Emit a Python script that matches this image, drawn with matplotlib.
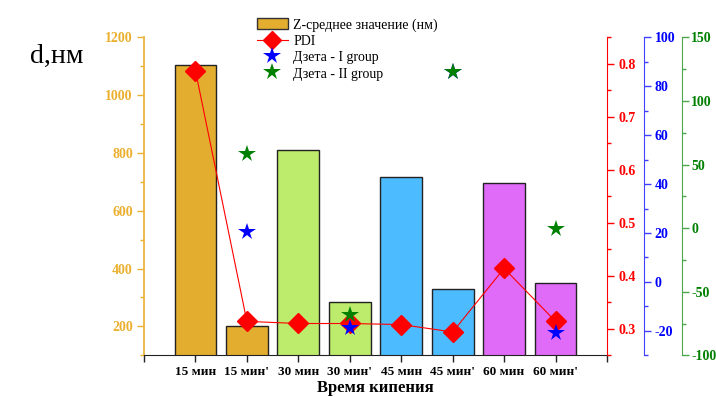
import matplotlib
matplotlib.use("Agg")
import matplotlib.pyplot as plt
import numpy as np
from matplotlib.ticker import MultipleLocator, FixedLocator
from matplotlib.patches import Patch
from matplotlib.lines import Line2D

plt.rcParams["axes.unicode_minus"] = False

categories = ["15 мин", "15 мин'", "30 мин", "30 мин'", "45 мин", "45 мин'", "60 мин", "60 мин'"]
z_average = [1103, 202, 811, 285, 716, 328, 695, 351]
pdi = [0.787, 0.314, 0.310, 0.310, 0.308, 0.294, 0.414, 0.314]
zeta_idx = [1, 3, 5, 7]
zeta_group1 = [20.5, -18.8, 86.0, -21.0]
zeta_group2 = [58.0, -68.5, 122.5, -0.5]

bar_colors = ["#E3AD30", "#E3AD30", "#BDEB6B", "#BDEB6B",
              "#4DBBFF", "#4DBBFF", "#E06BF8", "#E06BF8"]

SERIF = "Liberation Serif"
GOLD = "#EBB030"
RED = "#FF0000"

fig = plt.figure(figsize=(7.16, 3.97), dpi=100)
x0, x1 = 144 / 716, 607 / 716
y0, y1 = 1 - 355.3 / 397, 1 - 37.3 / 397
ax = fig.add_axes([x0, y0, x1 - x0, y1 - y0])
ax_r = ax.twinx()
ax_b = ax.twinx()
ax_g = ax.twinx()
width_px = 607 - 144

x = np.arange(len(categories))

# bars (left axis)
ax.bar(x, z_average, width=0.81, color=bar_colors, edgecolor="#222222", linewidth=1.0, zorder=2)
ax.set_xlim(-1, 8)
ax.set_ylim(100, 1200)

# PDI (red axis)
ax_r.plot(x, pdi, color=RED, linewidth=0.8, marker="D", markersize=10,
          markerfacecolor=RED, markeredgecolor=RED, zorder=3)
ax_r.set_ylim(0.25, 0.85)

# Zeta potentials
ax_b.plot(x[zeta_idx], zeta_group1, linestyle="none", marker="*", markersize=13,
          color="#0000FF", markeredgewidth=0)
ax_b.set_ylim(-30, 100)
ax_g.plot(x[zeta_idx], zeta_group2, linestyle="none", marker="*", markersize=13,
          color="#008000", markeredgewidth=0)
ax_g.set_ylim(-100, 150)

# spines
for a in (ax, ax_r, ax_b, ax_g):
    a.spines["top"].set_visible(False)
for a in (ax_r, ax_b, ax_g):
    a.spines["left"].set_visible(False)
    a.spines["bottom"].set_visible(False)
ax.spines["right"].set_visible(False)
ax.spines["left"].set_color(GOLD)
ax.spines["left"].set_linewidth(1.2)
ax.spines["bottom"].set_color("#222222")
ax_r.spines["right"].set_color(RED)
ax_b.spines["right"].set_position(("axes", (643.5 - 144) / width_px))
ax_b.spines["right"].set_color("#4040FF")
ax_g.spines["right"].set_position(("axes", (681.5 - 144) / width_px))
ax_g.spines["right"].set_color("#4CA64C")

tick_font = dict(family=SERIF, weight="bold", size=10)

# left axis ticks
ax.set_yticks([200, 400, 600, 800, 1000, 1200])
ax.yaxis.set_minor_locator(MultipleLocator(100))
ax.tick_params(axis="y", which="major", colors=GOLD, length=5, width=1, direction="out", pad=3)
ax.tick_params(axis="y", which="minor", colors=GOLD, length=3, width=1, direction="out")

# x axis
ax.xaxis.set_major_locator(FixedLocator(np.arange(-1, 9)))
ax.set_xticklabels([""] + categories + [""])
ax.tick_params(axis="x", which="major", colors="#222222", length=5, width=1, direction="out", pad=3)
for lbl in ax.get_xticklabels():
    lbl.set_color("black")
    lbl.set_fontproperties(dict(family=SERIF, weight="bold", size=9.5))
for lbl in ax.get_yticklabels():
    lbl.set_fontproperties(tick_font)
    lbl.set_color(GOLD)
ax.set_xlabel("Время кипения", fontfamily=SERIF, fontweight="bold", fontsize=12, labelpad=1)

# red axis ticks
ax_r.set_yticks([0.3, 0.4, 0.5, 0.6, 0.7, 0.8])
ax_r.set_yticklabels(["0.3", "0.4", "0.5", "0.6", "0.7", "0.8"])
ax_r.yaxis.set_minor_locator(MultipleLocator(0.05))
ax_r.tick_params(axis="y", which="major", colors=RED, length=5, width=1, pad=3)
ax_r.tick_params(axis="y", which="minor", colors=RED, length=3, width=1)

# blue axis ticks
ax_b.set_yticks([-20, 0, 20, 40, 60, 80, 100])
ax_b.yaxis.set_minor_locator(MultipleLocator(10))
ax_b.tick_params(axis="y", which="major", colors="#4040FF", length=5, width=1, pad=3)
ax_b.tick_params(axis="y", which="minor", colors="#4040FF", length=3, width=1)

# green axis ticks
ax_g.set_yticks([-100, -50, 0, 50, 100, 150])
ax_g.yaxis.set_minor_locator(MultipleLocator(25))
ax_g.tick_params(axis="y", which="major", colors="#4CA64C", length=5, width=1, pad=2)
ax_g.tick_params(axis="y", which="minor", colors="#4CA64C", length=3, width=1)

for a, c in ((ax_r, RED), (ax_b, "#0000FF"), (ax_g, "#008000")):
    for lbl in a.get_yticklabels():
        lbl.set_fontproperties(tick_font)
        lbl.set_color(c)

fig.text(30 / 716, 1 - 56 / 397, "d,нм", fontfamily=SERIF, fontsize=20, va="center", ha="left")

handles = [
    Patch(facecolor="#E3AD30", edgecolor="#333333", linewidth=1.0),
    Line2D([], [], color=RED, linewidth=0.8, marker="D", markersize=9, markerfacecolor=RED),
    Line2D([], [], linestyle="none", marker="*", markersize=13, color="#0000FF", markeredgewidth=0),
    Line2D([], [], linestyle="none", marker="*", markersize=13, color="#008000", markeredgewidth=0),
]
labels = ["Z-среднее значение (нм)", "PDI", "Дзета - I group", "Дзета - II group"]
fig.legend(handles, labels, loc="upper left", bbox_to_anchor=(250 / 716, 1 - 11 / 397),
           frameon=False, borderpad=0, numpoints=1, handlelength=2.2, handleheight=0.9,
           handletextpad=0.4, labelspacing=0.2,
           prop=dict(family=SERIF, size=10))

fig.savefig("out.png", dpi=100)
